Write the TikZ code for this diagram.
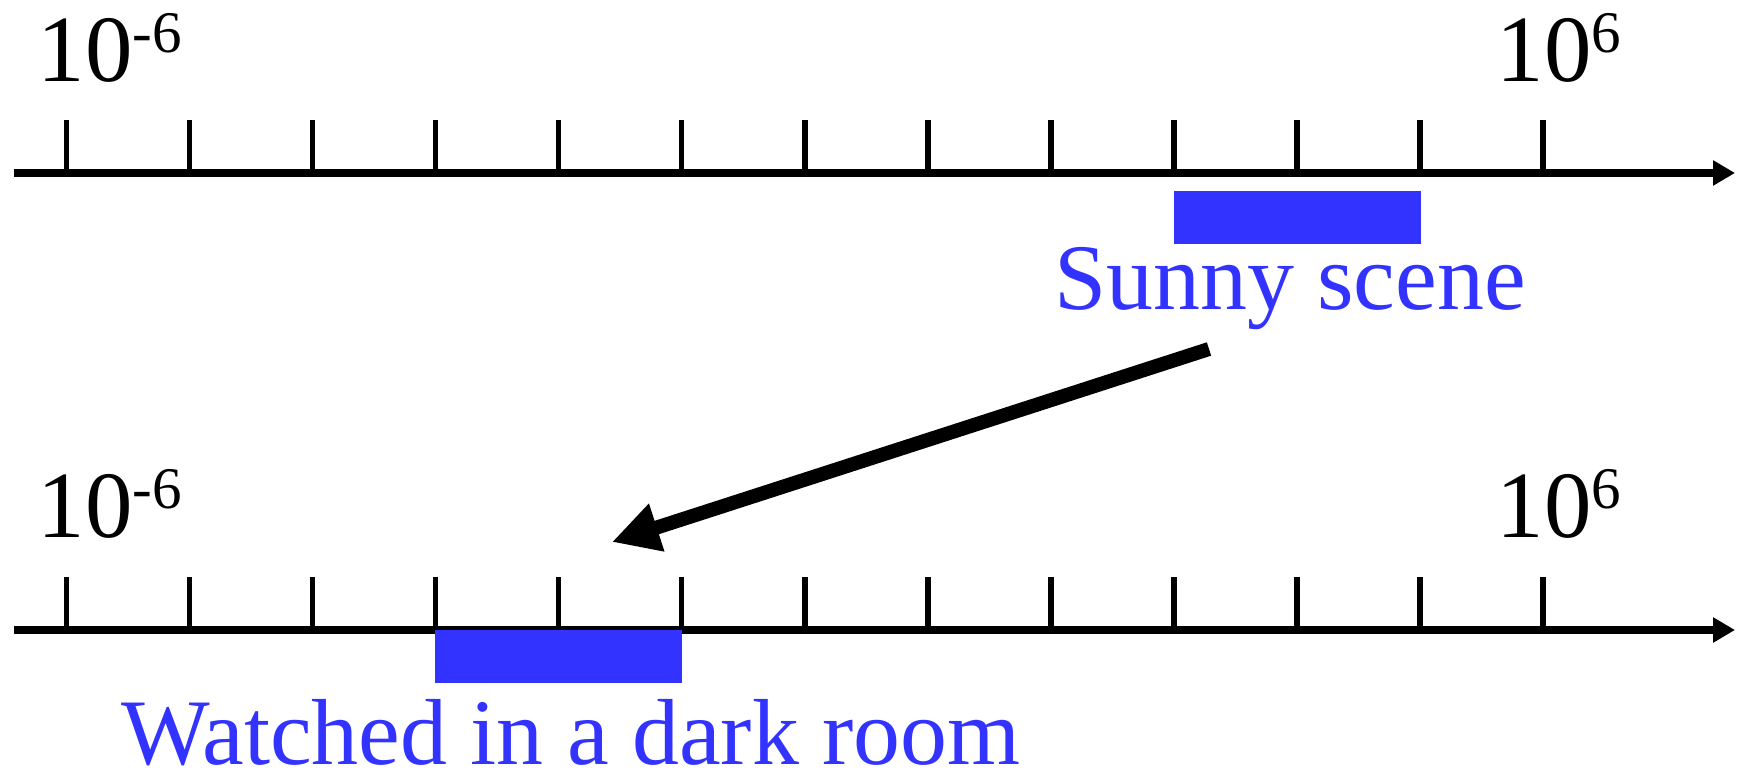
\documentclass[tikz,border=0pt]{standalone}
\usepackage{fontspec}
\setmainfont{Liberation Serif}
\usepackage{tikz}
\usetikzlibrary{arrows.meta,positioning}
\definecolor{barblue}{RGB}{51,51,255}
\newcommand{\powten}[1]{10\raisebox{8.5pt}{\fontsize{16.8}{18}\selectfont #1}}

\begin{document}
\begin{tikzpicture}[
  axis/.style={line width=2pt, -{Triangle[length=2.2mm 0, width=2.4mm 0]}},
  scaletick/.style={line width=1.7pt},
  bar/.style={fill=barblue, draw=none, inner sep=0, minimum height=5.3mm, minimum width=24.7mm},
  numlabel/.style={inner sep=0, anchor=base west, font=\fontsize{27}{30}\selectfont},
  bandlabel/.style={inner sep=0, anchor=base, text=barblue, font=\fontsize{26.7}{30}\selectfont}
]
\useasboundingbox (0,0) rectangle (17.39,7.71);

% upper scale
\draw[axis] (0.14,5.98) -- (17.35,5.98);
\foreach \i in {0,...,12}
  \draw[scaletick] ({0.665+1.23*\i},5.98) -- ++(0,0.53);
\node[numlabel] (upmin) at (0.37,6.89) {\powten{-6}};
\node[numlabel] (upmax) at (14.96,6.89) {\powten{6}};
\node[bar] (sunbar) at (12.975,5.535) {};
\node[bandlabel] (sunny) at (12.9,4.61) {Sunny scene};

% lower scale
\draw[axis] (0.14,1.41) -- (17.35,1.41);
\foreach \i in {0,...,12}
  \draw[scaletick] ({0.665+1.23*\i},1.41) -- ++(0,0.53);
\node[numlabel] (lowmin) at (0.37,2.33) {\powten{-6}};
\node[numlabel] (lowmax) at (14.96,2.33) {\powten{6}};
\node[bar] (darkbar) at (5.585,1.145) {};
\node[bandlabel, text depth=0pt] (dark) at (5.71,0.07) {Watched in a dark room};

% mapping
\coordinate (sunfrom) at (12.09,4.22);
\coordinate (darkto) at (6.12,2.29);
\draw[line width=4pt, -{Triangle[length=4.7mm 0, width=4.7mm 0]}] (sunfrom) -- (darkto);

\end{tikzpicture}
\end{document}
